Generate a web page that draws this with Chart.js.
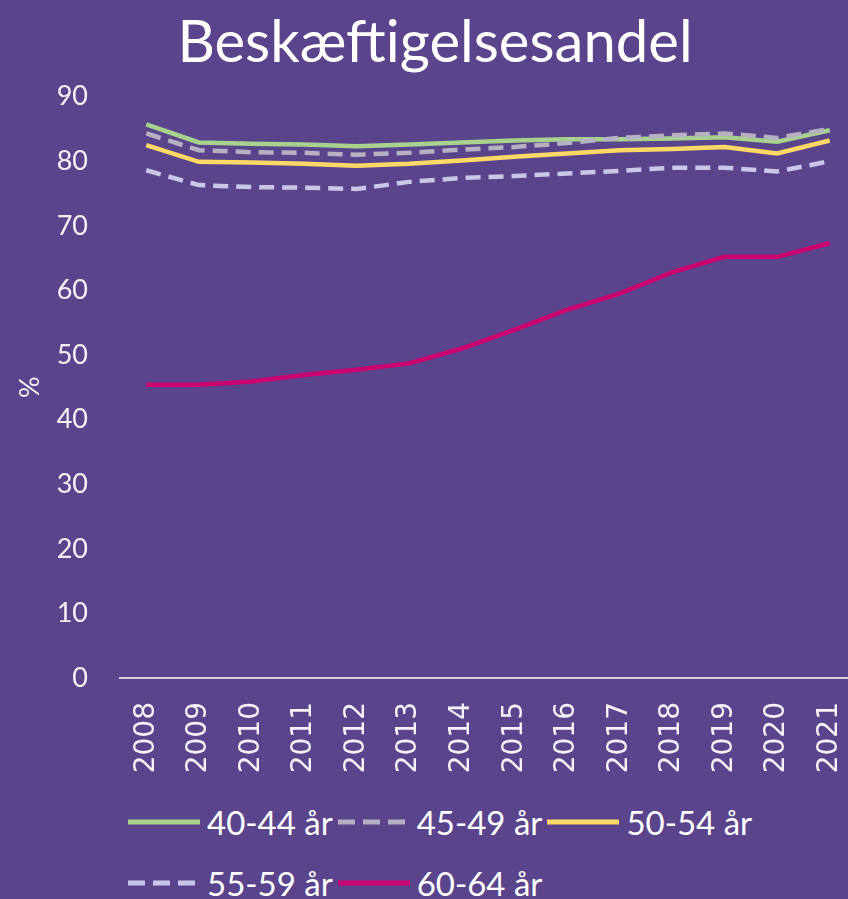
<!DOCTYPE html>
<html>
<head>
<meta charset="utf-8">
<script src="https://cdn.jsdelivr.net/npm/chart.js@4"></script>
<style>
body{margin:0;background:#5A458C;overflow:hidden;width:848px;height:899px;position:relative;font-family:Lato,sans-serif;}
#wrap{position:absolute;left:0;top:0;width:870px;height:800px;}
#legend{position:absolute;left:128px;top:802px;width:720px;color:#fff;font-size:33px;}
.row{display:flex;align-items:center;height:40px;margin-bottom:21px;white-space:nowrap;}
.item{display:flex;align-items:center;margin-right:5px;}
.item svg{margin-right:7px;}
</style>
</head>
<body>
<div id="wrap"><canvas id="chart" width="870" height="800"></canvas></div>
<div id="legend"></div>
<script>
// ========== Data ==========
const years=['2008','2009','2010','2011','2012','2013','2014','2015','2016','2017','2018','2019','2020','2021'];
const labels=['40-44 år','45-49 år','50-54 år','55-59 år','60-64 år'];
const age4044=[85.7,82.9,82.7,82.6,82.3,82.6,82.9,83.2,83.4,83.4,83.5,83.7,83.0,84.8];
const age4549=[84.3,81.7,81.4,81.3,81.0,81.3,81.8,82.2,82.8,83.6,84.0,84.3,83.6,85.0];
const age5054=[82.5,79.9,79.8,79.6,79.3,79.6,80.1,80.7,81.2,81.7,81.9,82.2,81.2,83.2];
const age5559=[78.6,76.3,76.0,75.9,75.7,76.8,77.4,77.7,78.1,78.5,79.0,79.0,78.4,80.0];
const age6064=[45.4,45.4,45.9,46.9,47.7,48.7,51.0,53.9,57.0,59.5,62.8,65.2,65.2,67.3];
const yTicks=[0,10,20,30,40,50,60,70,80,90];

// ========== Styles ==========
const colors=['#A9D18E','#B5B0C2','#FFD966','#C9C7E8','#CC0070'];
const dashes=[[],[15,8],[],[15,8],[]];
const series=[age4044,age4549,age5054,age5559,age6064];

const datasets=series.map((d,i)=>({
    label:labels[i],data:d,borderColor:colors[i],backgroundColor:colors[i],
    borderWidth:4.5,borderDash:dashes[i],pointRadius:0,tension:0,
    order:series.length-i
}));

// ========== Chart ==========
new Chart(document.getElementById('chart'),{
    type:'line',
    data:{labels:years,datasets:datasets},
    options:{
        responsive:false,animation:false,
        layout:{padding:0},
        plugins:{
            legend:{display:false},tooltip:{enabled:false},
            title:{display:true,text:'Beskæftigelsesandel',color:'#fff',
                font:{family:'Lato',size:58,weight:'normal'},padding:{top:8,bottom:19}}
        },
        scales:{
            x:{
                offset:true,
                grid:{display:false,drawTicks:false},
                border:{display:true,color:'#D6D2E4',width:2},
                ticks:{color:'#F4F2F8',minRotation:90,maxRotation:90,padding:24,
                    font:{family:'DejaVu Sans',size:28}},
                afterFit:s=>{s.height=122;s.paddingLeft=0;s.paddingRight=14;}
            },
            y:{
                min:0,max:90,
                afterBuildTicks:s=>{s.ticks=yTicks.map(v=>({value:v}));},
                grid:{display:false,drawTicks:false},
                border:{display:false},
                ticks:{color:'#F4F2F8',padding:32,font:{family:'Lato',size:27}},
                title:{display:true,text:'%',color:'#F4F2F8',font:{family:'Lato',size:27},padding:{top:14,bottom:0}},
                afterFit:s=>{s.width=120;}
            }
        }
    }
});

// ========== Legend ==========
function sample(i){
    const dash=dashes[i].length?`stroke-dasharray="17 8"`:'';
    return `<svg width="72" height="8"><line x1="0" y1="4" x2="72" y2="4" stroke="${colors[i]}" stroke-width="5" ${dash}/></svg>`;
}
const rows=[[0,1,2],[3,4]];
document.getElementById('legend').innerHTML=rows.map(r=>
    `<div class="row">${r.map(i=>`<div class="item">${sample(i)}<span>${labels[i]}</span></div>`).join('')}</div>`
).join('');
</script>
</body>
</html>
